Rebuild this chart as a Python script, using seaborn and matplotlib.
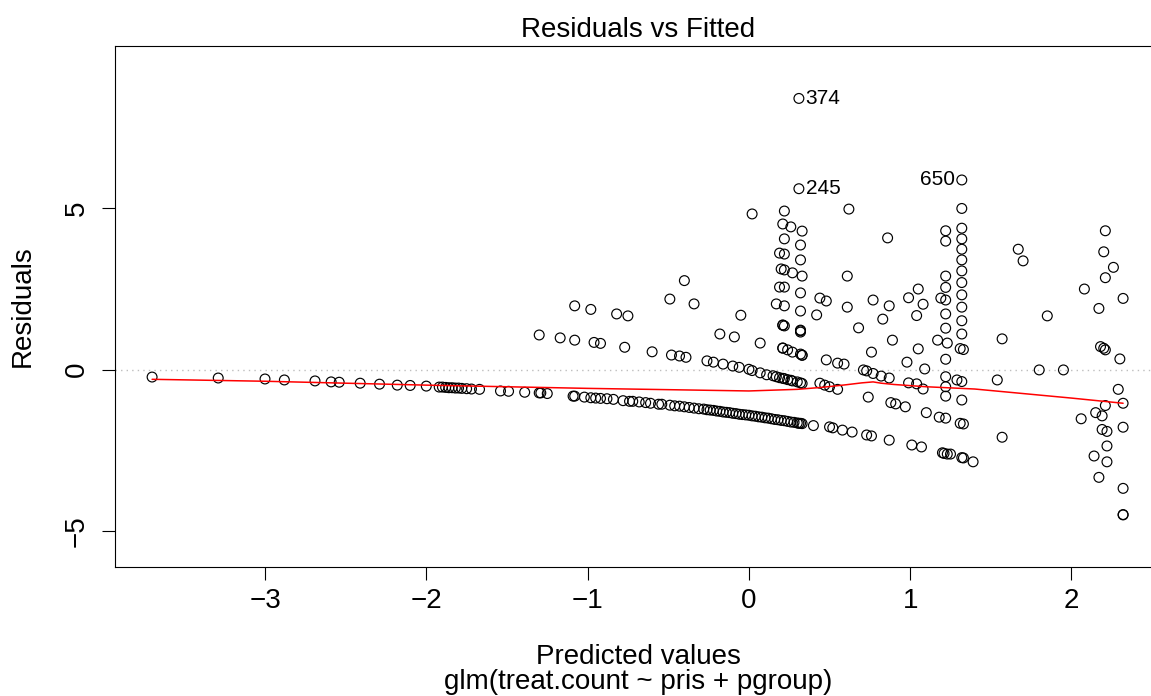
import numpy as np
import pandas as pd
import matplotlib
matplotlib.use("Agg")
import matplotlib.pyplot as plt
import seaborn as sns

# ---- data (fitted values, residuals) ----
band0_x = [-3.70, -3.29, -3.00, -2.88, -2.69, -2.59, -2.54, -2.41, -2.29, -2.18, -2.10, -2.00,
           -1.92, -1.90, -1.88, -1.86, -1.84, -1.82, -1.80, -1.78, -1.75, -1.72, -1.67, -1.54,
           -1.49, -1.39, -1.30, -1.29, -1.25, -1.09, -1.08, -1.02, -0.98, -0.95, -0.92, -0.88,
           -0.84, -0.78, -0.74, -0.72, -0.68, -0.64, -0.61, -0.56, -0.54, -0.49, -0.46, -0.43,
           -0.40, -0.37, -0.34, -0.31, -0.28, -0.26, -0.24, -0.22, -0.20, -0.18, -0.16, -0.14,
           -0.12, -0.10, -0.08, -0.06, -0.04, -0.02, 0.00, 0.02, 0.04, 0.06, 0.08, 0.10, 0.12,
           0.14, 0.16, 0.18, 0.20, 0.22, 0.24, 0.26, 0.28, 0.30, 0.31, 0.32, 0.33, 0.40, 0.50,
           0.52, 0.58, 0.64, 0.73, 0.76, 0.87, 1.01, 1.07, 1.20, 1.21, 1.23, 1.25, 1.32, 1.33,
           1.39]
band0_y = [-0.23, -0.26, -0.29, -0.32, -0.35, -0.38, -0.39, -0.42, -0.45, -0.48, -0.49, -0.51,
           -0.54, -0.54, -0.55, -0.56, -0.56, -0.57, -0.57, -0.58, -0.59, -0.60, -0.61, -0.66,
           -0.67, -0.70, -0.72, -0.72, -0.74, -0.82, -0.82, -0.85, -0.87, -0.88, -0.89, -0.90,
           -0.92, -0.96, -0.98, -0.98, -1.00, -1.02, -1.04, -1.07, -1.07, -1.10, -1.12, -1.13,
           -1.15, -1.17, -1.19, -1.21, -1.22, -1.24, -1.25, -1.26, -1.28, -1.29, -1.31, -1.32,
           -1.33, -1.35, -1.36, -1.38, -1.39, -1.40, -1.41, -1.43, -1.44, -1.46, -1.47, -1.49,
           -1.50, -1.52, -1.54, -1.55, -1.57, -1.58, -1.60, -1.62, -1.63, -1.65, -1.66, -1.66,
           -1.67, -1.73, -1.77, -1.80, -1.87, -1.93, -2.02, -2.05, -2.18, -2.33, -2.39, -2.57,
           -2.59, -2.61, -2.61, -2.72, -2.73, -2.85]

band1_x = [-0.48, -0.43, -0.39, -0.26, -0.22, -0.16, -0.10, -0.06, 0.00, 0.02, 0.07, 0.11,
           0.15, 0.17, 0.19, 0.21, 0.22, 0.24, 0.26, 0.27, 0.30, 0.32, 0.33, 0.44, 0.47, 0.50,
           0.55, 0.74, 0.88, 0.91, 0.97, 1.10, 1.18, 1.22]
band1_y = [0.45, 0.42, 0.38, 0.27, 0.23, 0.17, 0.11, 0.07, 0.01, -0.03, -0.10, -0.16,
           -0.19, -0.22, -0.25, -0.27, -0.28, -0.31, -0.33, -0.35, -0.38, -0.41, -0.43, -0.42,
           -0.48, -0.53, -0.61, -0.85, -1.02, -1.06, -1.15, -1.33, -1.47, -1.50]

upper_x = [-1.30, -1.17, -1.08, -0.96, -0.92, -0.77, -0.60, -1.08, -0.98, -0.82, -0.75, -0.49,
           -0.40, -0.34, -0.05, -0.18, -0.09, 0.07, 0.02, 0.22, 0.62, 0.21, 0.26, 0.33, 0.22,
           0.32, 0.86, 0.19, 0.22, 0.32, 0.20, 0.22, 0.27, 0.33, 0.61, 0.19, 0.22, 0.32, 0.44,
           0.48, 0.17, 0.22, 0.61, 0.77, 0.87, 0.32, 0.42, 0.83, 0.21, 0.21, 0.22, 0.32, 0.32,
           0.32, 0.68, 0.89, 0.21, 0.21, 0.24, 0.27, 0.32, 0.33, 0.33, 0.76, 0.48, 0.55, 0.59,
           0.71, 0.73, 0.77, 0.82, 0.87, 0.31, 0.31,
           1.05, 0.99, 1.08, 1.04, 1.05, 0.98, 1.09, 0.99, 1.04, 1.08]
upper_y = [1.07, 0.98, 0.91, 0.84, 0.81, 0.69, 0.55, 1.97, 1.86, 1.72, 1.66, 2.18,
           2.75, 2.03, 1.68, 1.10, 1.01, 0.82, 4.81, 4.90, 4.96, 4.50, 4.41, 4.28, 4.04,
           3.85, 4.07, 3.60, 3.57, 3.39, 3.11, 3.08, 2.99, 2.89, 2.89, 2.55, 2.55, 2.37, 2.21,
           2.12, 2.03, 1.97, 1.93, 2.15, 1.97, 1.81, 1.69, 1.56, 1.38, 1.37, 1.35, 1.22, 1.20,
           1.16, 1.29, 0.91, 0.67, 0.66, 0.61, 0.54, 0.48, 0.44, 0.45, 0.54, 0.30, 0.20, 0.17,
           -0.01, -0.04, -0.12, -0.20, -0.26, 8.38, 5.59,
           2.49, 2.22, 2.02, 1.67, 0.64, 0.23, 0.02, -0.41, -0.44, -0.60]

col_a_x = [1.22, 1.22, 1.22, 1.22, 1.19, 1.22, 1.22, 1.22, 1.17, 1.23, 1.22, 1.22, 1.22, 1.22]
col_a_y = [4.29, 3.97, 2.89, 2.54, 2.21, 2.15, 1.72, 1.28, 0.91, 0.82, 0.32, -0.22, -0.53, -0.82]

col_b_x = [1.32, 1.32, 1.32, 1.32, 1.32, 1.32, 1.32, 1.32, 1.32, 1.32, 1.32, 1.32, 1.31,
           1.33, 1.29, 1.32, 1.32, 1.31, 1.33]
col_b_y = [5.86, 4.98, 4.37, 4.04, 3.72, 3.39, 3.05, 2.69, 2.31, 1.93, 1.51, 1.10, 0.65,
           0.62, -0.32, -0.37, -0.94, -1.66, -1.68]

right_x = [2.21, 2.20, 2.26, 2.21, 1.67, 1.70, 2.08, 2.32, 2.17, 1.85, 1.57, 2.18, 2.20, 2.21,
           2.30, 1.80, 1.95, 1.54, 2.29, 2.32, 2.21, 2.15, 2.19, 2.06, 2.19, 2.22, 2.32, 1.57,
           2.22, 2.14, 2.22, 2.17, 2.32, 2.32, 2.32]
right_y = [4.29, 3.64, 3.16, 2.84, 3.72, 3.36, 2.49, 2.20, 1.89, 1.66, 0.95, 0.71, 0.66, 0.61,
           0.33, -0.01, -0.01, -0.32, -0.61, -1.04, -1.11, -1.33, -1.43, -1.52, -1.85, -1.91,
           -1.78, -2.09, -2.36, -2.67, -2.85, -3.33, -3.67, -4.49, -4.48]

# smoother (red line)
smooth_x = [-3.70, -3.00, -2.50, -2.00, -1.50, -1.00, -0.50, 0.00, 0.30, 0.45, 0.60, 0.70,
            0.77, 0.82, 0.90, 1.10, 1.40, 1.70, 2.00, 2.32]
smooth_y = [-0.30, -0.36, -0.42, -0.48, -0.53, -0.58, -0.62, -0.66, -0.61, -0.55, -0.47, -0.41,
            -0.38, -0.42, -0.46, -0.53, -0.60, -0.74, -0.88, -1.04]

x_ticks = [-3, -2, -1, 0, 1, 2]
y_ticks = [-5, 0, 5]
id_labels = ["374", "650", "245"]          # three largest |residuals|, in that order
id_sides = ["right", "left", "right"]

title = "Residuals vs Fitted"
y_label = "Residuals"
x_label_1 = "Predicted values"
x_label_2 = "glm(treat.count ~ pris + pgroup)"

fitted = band0_x + band1_x + upper_x + col_a_x + col_b_x + right_x
resid = band0_y + band1_y + upper_y + col_a_y + col_b_y + right_y
df = pd.DataFrame({"fitted": fitted, "resid": resid})
sm = pd.DataFrame({"x": smooth_x, "y": smooth_y})

# ---- figure ----
sns.set_style("white")
plt.rcParams['font.family'] = ['Liberation Sans', 'DejaVu Sans']
plt.rcParams['text.color'] = 'black'
plt.rcParams['axes.labelcolor'] = 'black'
plt.rcParams['xtick.color'] = 'black'
plt.rcParams['ytick.color'] = 'black'

W, H = 1151, 696
fig = plt.figure(figsize=(W / 100, H / 100), dpi=100)
L, R, T, B = 115, 1161, 46, 567
ax = fig.add_axes([L / W, 1 - B / H, (R - L) / W, (B - T) / H])

ax.axhline(0, color="#bebebe", lw=1.0, ls=(0, (1, 3)), zorder=1)
sns.scatterplot(data=df, x="fitted", y="resid", ax=ax, s=50, marker="o",
                legend=False, zorder=3)
coll = ax.collections[-1]
coll.set_facecolor("none")
coll.set_edgecolor("black")
coll.set_linewidth(0.85)

sns.lineplot(data=sm, x="x", y="y", ax=ax, color="red", lw=1.1, sort=False,
             estimator=None, zorder=4)

# identify the three most extreme points
order = np.argsort(-np.abs(np.array(resid)))[:3]
for i, lab, side in zip(order, id_labels, id_sides):
    dx = 4.8 if side == "right" else -4.8
    ax.annotate(lab, (fitted[i], resid[i]), xytext=(dx, 0), textcoords="offset points",
                ha="left" if side == "right" else "right", va="center", fontsize=15,
                color="black")

ax.set_xlim(-3.93, 2.555)
ax.set_ylim(-6.1, 10.0)
ax.set_xticks(x_ticks)
ax.set_yticks(y_ticks)
ax.set_xticklabels([str(v) if v >= 0 else "\u2212" + str(-v) for v in x_ticks])
ax.set_yticklabels([str(v) if v >= 0 else "\u2212" + str(-v) for v in y_ticks])
ax.set_xlabel("")
ax.set_ylabel("")
ax.tick_params(axis="both", direction="out", length=9.4, width=0.8, color="black",
               labelsize=20, labelcolor="black")
ax.tick_params(axis="x", pad=6, bottom=True)
ax.tick_params(axis="y", pad=9, left=True, labelrotation=90)
for lab in ax.get_yticklabels():
    lab.set_va("center")
for side in ["left", "bottom", "top"]:
    ax.spines[side].set_visible(True)
    ax.spines[side].set_color("black")
    ax.spines[side].set_linewidth(0.8)
ax.spines["right"].set_visible(False)

cx = (L + R) / 2 / W
fig.text(cx, 1 - 37 / H, title, ha="center", va="baseline", fontsize=20, color="black")
fig.text(cx, 1 - 664 / H, x_label_1, ha="center", va="baseline", fontsize=20, color="black")
fig.text(cx, 1 - 689 / H, x_label_2, ha="center", va="baseline", fontsize=20, color="black")
fig.text(23 / W, 1 - ((T + B) / 2) / H, y_label, ha="center", va="center",
         rotation=90, fontsize=20, color="black")

fig.savefig("out.png", dpi=100)
